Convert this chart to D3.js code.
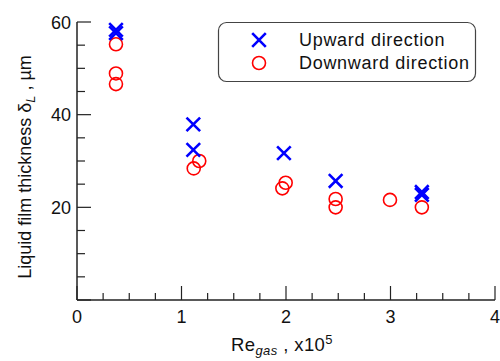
<!DOCTYPE html>
<html><head><meta charset="utf-8">
<script src="https://cdn.jsdelivr.net/npm/d3@7"></script>
<style>body{margin:0;background:#fff}svg{display:block}text{font-family:"Liberation Sans",Arial,Helvetica,sans-serif;fill:#111}</style>
</head><body><svg id="c" width="500" height="361"></svg>
<script>
const upX = [0.373, 0.373, 1.113, 1.113, 1.98, 2.475, 3.30, 3.30];
const upY = [58.3, 57.6, 37.9, 32.4, 31.7, 25.7, 23.3, 22.7];
const downX = [0.373, 0.373, 0.373, 1.17, 1.117, 1.997, 1.965, 2.475, 2.475, 2.995, 3.30];
const downY = [55.2, 48.9, 46.6, 30.0, 28.4, 25.3, 24.1, 21.8, 20.0, 21.6, 20.0];
const xTicks = [0, 1, 2, 3, 4];
const yTicks = [20, 40, 60];
const legendLabels = ["Upward direction", "Downward direction"];

const svg = d3.select("#c");
const x = d3.scaleLinear().domain([0, 4]).range([77, 495]);
const y = d3.scaleLinear().domain([0, 60]).range([300, 22]);
const axisColor = "#222";

svg.append("line").attr("x1", x(0)).attr("x2", x(4)).attr("y1", y(0)).attr("y2", y(0)).attr("stroke", axisColor).attr("stroke-width", 1.5);
svg.append("line").attr("x1", x(0)).attr("x2", x(0)).attr("y1", y(0)).attr("y2", y(60)).attr("stroke", axisColor).attr("stroke-width", 1.5);

const xMinor = d3.range(0, 4.001, 0.25);
svg.selectAll(".xt").data(xMinor).join("line")
  .attr("x1", d => x(d)).attr("x2", d => x(d))
  .attr("y1", y(0)).attr("y2", d => y(0) - (Math.abs(d - Math.round(d)) < 1e-6 ? 14 : 7))
  .attr("stroke", axisColor).attr("stroke-width", 1.2);
svg.selectAll(".xl").data(xTicks).join("text")
  .attr("x", d => x(d)).attr("y", 323).attr("text-anchor", "middle")
  .attr("font-size", 18).text(d => d);

const yMinor = d3.range(0, 60.001, 5);
svg.selectAll(".yt").data(yMinor).join("line")
  .attr("y1", d => y(d)).attr("y2", d => y(d))
  .attr("x1", x(0)).attr("x2", d => x(0) + (d % 20 === 0 ? 14 : 8))
  .attr("stroke", axisColor).attr("stroke-width", 1.2);
svg.selectAll(".yl").data(yTicks).join("text")
  .attr("x", 71).attr("y", d => y(d) + 6.5).attr("text-anchor", "end")
  .attr("font-size", 18).text(d => d);

const xt = svg.append("text").attr("x", 231).attr("y", 351).attr("font-size", 18.5).attr("letter-spacing", 0.4);
xt.append("tspan").text("Re");
xt.append("tspan").attr("font-size", 13).attr("font-style", "italic").attr("dy", 4).text("gas");
xt.append("tspan").attr("dy", -4).text(" , x10");
xt.append("tspan").attr("font-size", 13).attr("dy", -7).text("5");

const yt = svg.append("text").attr("transform", "translate(31,167) rotate(-90)").attr("text-anchor", "middle").attr("font-size", 18);
yt.append("tspan").text("Liquid film thickness δ");
yt.append("tspan").attr("font-size", 13).attr("font-style", "italic").attr("dy", 4).text("L");
yt.append("tspan").attr("dy", -4).text(" , µm");

const xs = 6.8;
function cross(g, cx, cy) {
  g.append("path").attr("d", `M${cx - xs},${cy - xs}L${cx + xs},${cy + xs}M${cx - xs},${cy + xs}L${cx + xs},${cy - xs}`)
    .attr("stroke", "#0000ff").attr("stroke-width", 2.6).attr("fill", "none");
}
const gDown = svg.append("g");
downX.forEach((d, i) => {
  gDown.append("circle").attr("cx", x(d)).attr("cy", y(downY[i])).attr("r", 6.5)
    .attr("fill", "none").attr("stroke", "#ff0000").attr("stroke-width", 1.6);
});
const gUp = svg.append("g");
upX.forEach((d, i) => cross(gUp, x(d), y(upY[i])));

svg.append("rect").attr("x", 218.5).attr("y", 22.5).attr("width", 257).attr("height", 59).attr("rx", 8)
  .attr("fill", "#fff").attr("stroke", "#444").attr("stroke-width", 1.2);
cross(svg, 259, 40);
svg.append("circle").attr("cx", 259).attr("cy", 63).attr("r", 6.5).attr("fill", "none").attr("stroke", "#ff0000").attr("stroke-width", 1.6);
svg.selectAll(".lg").data(legendLabels).join("text")
  .attr("x", 299).attr("y", (d, i) => 46 + i * 23).attr("font-size", 18).attr("letter-spacing", 0.7).text(d => d);
</script></body></html>
